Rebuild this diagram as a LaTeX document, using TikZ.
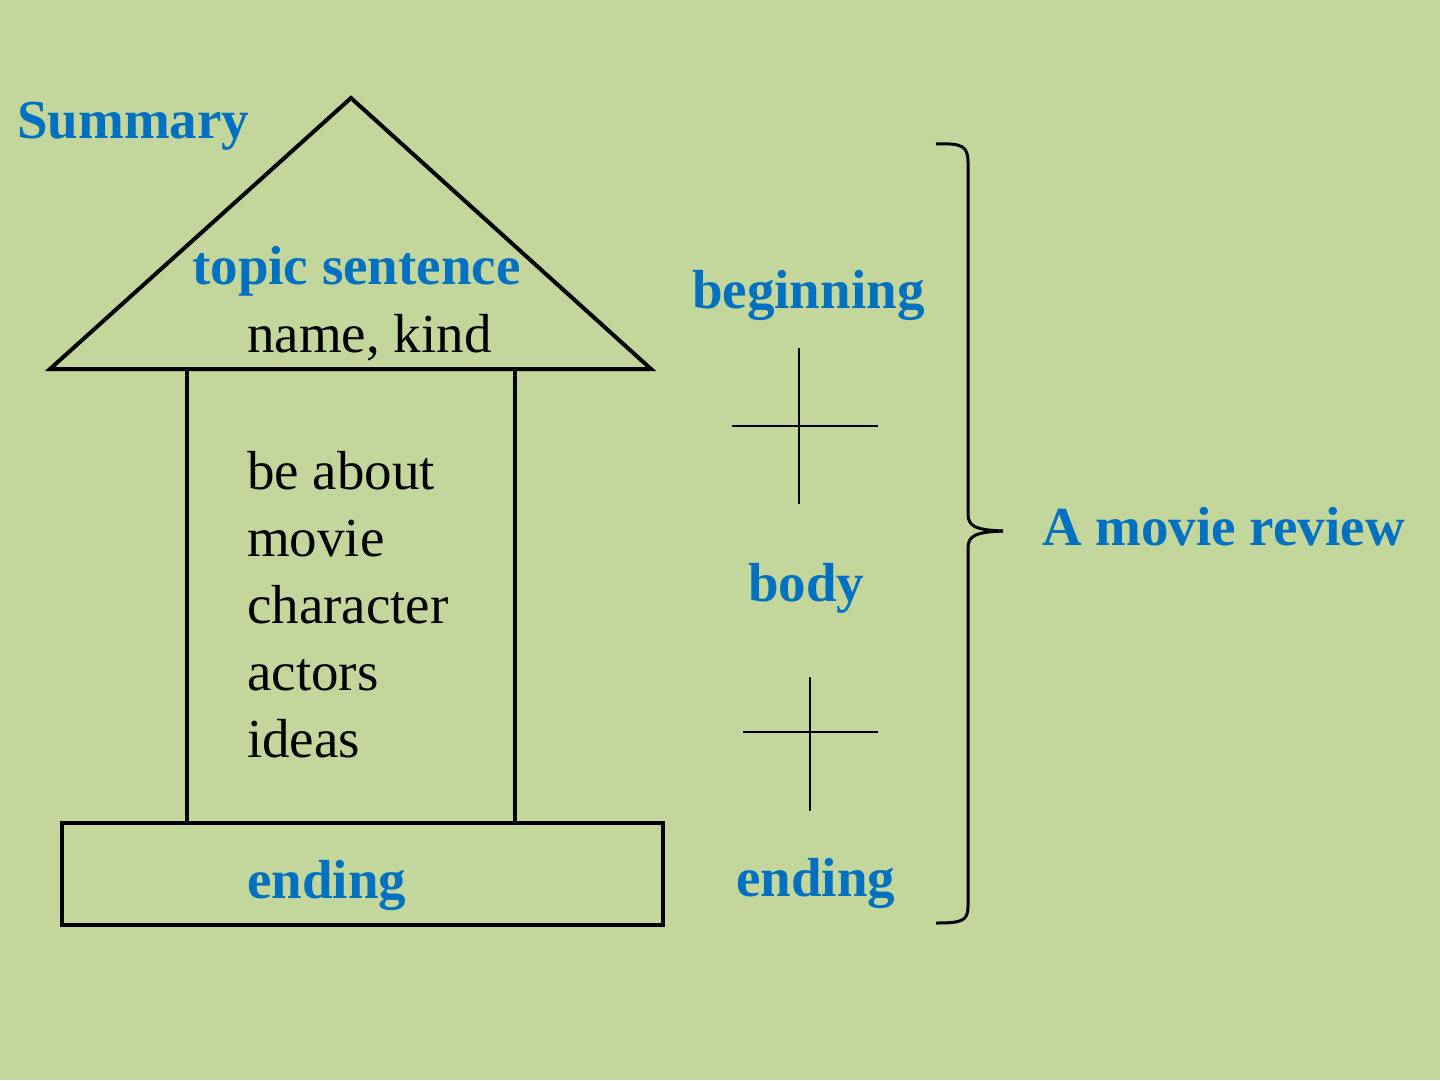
\documentclass[tikz,border=0pt]{standalone}
\usepackage{fontspec}
\setmainfont{Liberation Serif}
\definecolor{bg}{RGB}{195,214,155}
\definecolor{txtblue}{RGB}{0,112,192}
\begin{document}
\begin{tikzpicture}[x=1pt,y=-1pt,
  lbl/.style={inner sep=0pt,anchor=base west,font=\fontsize{55}{66}\selectfont},
  bluelbl/.style={lbl,text=txtblue,font=\fontsize{55}{66}\selectfont\bfseries},
  house/.style={line width=4pt,line join=miter},
  plusline/.style={line width=2.5pt},
  bracestyle/.style={line width=3pt}]
\fill[bg] (0,0) rectangle (1440,1080);
\useasboundingbox (0,0) rectangle (1440,1080);
% house
\coordinate (apex) at (351,98);
\coordinate (bl) at (50,369);
\coordinate (br) at (651,369);
\draw[house] (bl) -- (apex) -- (br) -- cycle;
\draw[house] (187,369) -- (187,823);
\draw[house] (515,369) -- (515,823);
\draw[house] (62,823) rectangle (663,925);
% texts
\node[bluelbl] (summary) at (17,138) {Summary};
\node[bluelbl] (topic) at (192,284) {topic sentence};
\node[lbl] (name) at (247,352) {name, kind};
\node[lbl] (l1) at (247,489) {be about};
\node[lbl] (l2) at (247,556) {movie};
\node[lbl] (l3) at (247,623) {character};
\node[lbl] (l4) at (247,690) {actors};
\node[lbl] (l5) at (247,757) {ideas};
\node[bluelbl] (ending1) at (247,898) {ending};
% right column
\node[bluelbl] (beginning) at (692,308) {beginning};
\node[bluelbl] (body) at (748,601) {body};
\node[bluelbl] (ending2) at (736,896) {ending};
\draw[plusline] (799,348) -- (799,504);
\draw[plusline] (732,426) -- (878,426);
\draw[plusline] (810,677) -- (810,811);
\draw[plusline] (743,732) -- (878,732);
% brace
\coordinate (btop) at (936,144);
\coordinate (btip) at (1003,531);
\coordinate (bbot) at (936,923);
\draw[bracestyle] (btop) .. controls (962,143) and (968,146) .. (968,162) -- (968,514)
  .. controls (968,526) and (975,530) .. (btip);
\draw[bracestyle] (btip) .. controls (975,532) and (968,536) .. (968,548) -- (968,906)
  .. controls (968,921) and (962,923) .. (bbot);
\node[bluelbl] (review) at (1042,545) {A movie review};
\end{tikzpicture}
\end{document}
